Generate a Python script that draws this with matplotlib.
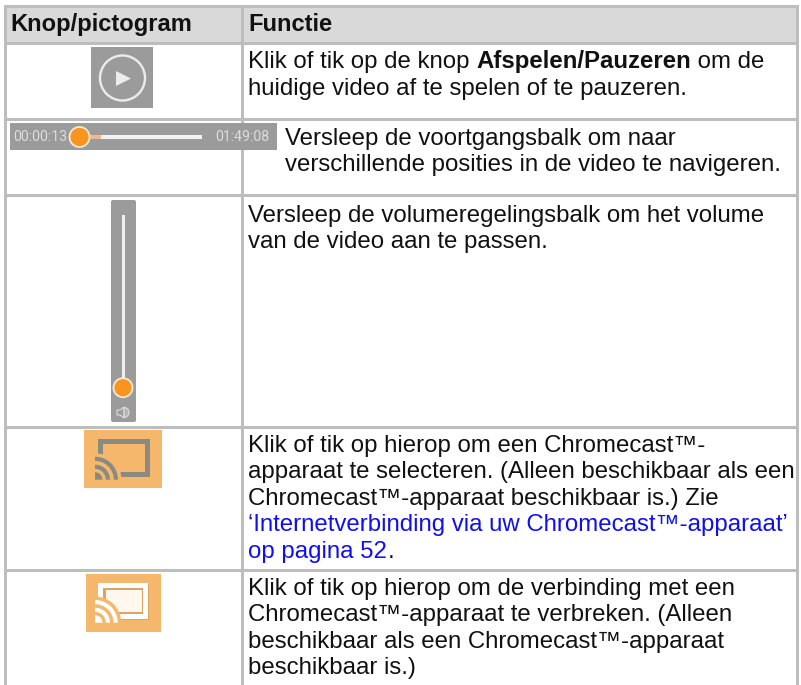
import numpy as np
import matplotlib
matplotlib.use("Agg")
import matplotlib.pyplot as plt
from matplotlib.patches import Rectangle, Circle, FancyBboxPatch, Polygon, Wedge

headers = ["Knop/pictogram", "Functie"]
black, blue = "#111111", "#1010ee"
row1_lines = [[("Klik of tik op de knop ", 0), ("Afspelen/Pauzeren", 1), (" om de", 0)],
              [("huidige video af te spelen of te pauzeren.", 0)]]
row2_lines = ["Versleep de voortgangsbalk om naar",
              "verschillende posities in de video te navigeren."]
row3_lines = ["Versleep de volumeregelingsbalk om het volume",
              "van de video aan te passen."]
row4_lines = ["Klik of tik op hierop om een Chromecast™-",
              "apparaat te selecteren. (Alleen beschikbaar als een",
              "Chromecast™-apparaat beschikbaar is.) Zie"]
row4_links = ["‘Internetverbinding via uw Chromecast™-apparaat’",
              "op pagina 52"]
row5_lines = ["Klik of tik op hierop om de verbinding met een",
              "Chromecast™-apparaat te verbreken. (Alleen",
              "beschikbaar als een Chromecast™-apparaat",
              "beschikbaar is.)"]
time_start, time_end = "00:00:13", "01:49:08"

W, H = 801, 685
fig = plt.figure(figsize=(W/100, H/100), dpi=100)
ax = fig.add_axes([0, 0, 1, 1])
ax.set_xlim(0, W); ax.set_ylim(H, 0); ax.axis("off")

FS = 17.3
FAM = "Liberation Sans"
GRID = "#bdbdbd"
GREY = "#9b9b9b"
ORANGE = "#f9941e"
TAN = "#f4b76b"
DY = 26.45

def rect(x0, y0, x1, y1, c, z=1, **k):
    ax.add_patch(Rectangle((x0, y0), x1-x0, y1-y0, fc=c, ec="none", zorder=z, **k))

def text(x, y, s, c=black, w="normal", fs=FS):
    return ax.text(x, y, s, color=c, fontsize=fs, fontweight=w, family=FAM, va="baseline", ha="left", zorder=5)

# header + grid
rect(5, 7, 797, 43, "#d9d9d9", 1)
for y in [6.5, 43.5, 119.5, 195.5, 427, 570.5]:
    rect(3.5, y-1.5, 798.5, y+1.5, GRID, 2)
for x in [5, 242.5, 797]:
    rect(x-1.5, 5, x+1.5, H, GRID, 2)

text(10, 31, headers[0], w="bold", fs=17.15)
text(248, 31, headers[1], w="bold", fs=17.15)

def lines(x, y0, ls, c=black, dy=DY):
    for i, s in enumerate(ls):
        text(x, y0 + i*dy, s, c)

r = fig.canvas.get_renderer()
def width(s, b=False):
    t2 = ax.text(0, 0, s.replace(" ", "\u00a0"), fontsize=FS, family=FAM, fontweight="bold" if b else "normal")
    v = t2.get_window_extent(r).width
    t2.remove()
    return v

x = 248.5
for s, b in row1_lines[0]:
    text(x, 68.3, s, w="bold" if b else "normal")
    x += width(s, b)
text(248.5, 94.5, row1_lines[1][0][0])
lines(285, 145, row2_lines)
lines(248.5, 221.7, row3_lines)
lines(248.5, 451.7, row4_lines)
lines(248.5, 531.5, row4_links, blue)
text(248.5 + width(row4_links[1]), 531.5 + DY, ".")
lines(248.5, 595, row5_lines)

# play icon
rect(91, 47, 153, 108, GREY, 3)
ax.add_patch(Circle((122.5, 78), 22.5, fc="none", ec="#ececec", lw=1.7, zorder=4))
ax.add_patch(Polygon([[116, 71], [116, 86], [131, 78.5]], fc="#ececec", ec="none", zorder=4))

# progress bar
rect(10, 123, 277, 150, GREY, 3)
ax.text(13, 137, time_start, color="#dcdcdc", fontsize=10.2, family="Roboto", va="center", zorder=4)
ax.text(215, 137, time_end, color="#dcdcdc", fontsize=10.2, family="Roboto", va="center", zorder=4)
rect(90, 135.3, 202, 138.7, "#f2f2f2", 4)
rect(90, 135.3, 101, 138.7, "#f2b98a", 4)
ax.add_patch(Circle((79.5, 137), 10, fc=ORANGE, ec="#f4ead8", lw=1.3, zorder=5))

# volume bar
ax.add_patch(FancyBboxPatch((111, 200), 25, 222, boxstyle="round,pad=0,rounding_size=2", fc=GREY, ec="none", zorder=3))
rect(121.7, 215, 125, 378, "#f0f0f0", 4)
ax.add_patch(Circle((123, 387.7), 9.5, fc=ORANGE, ec="#f4ead8", lw=1.3, zorder=5))
ax.add_patch(Polygon([[117, 410], [120, 410], [124, 407], [124, 418], [120, 415], [117, 415]], fc="#9b9b9b", ec="#dddddd", lw=0.8, zorder=4))
ax.add_patch(Wedge((124, 412.5), 5, -90, 90, fc="#b5b5b5", ec="#dddddd", lw=0.8, zorder=4))

# cast icons
def waves(ox, oy, rs, c):
    ax.add_patch(Wedge((ox, oy), rs[-1] + 3.5, -90, 0, fc=TAN, ec="none", zorder=4.2))
    ax.add_patch(Wedge((ox, oy), rs[0], -90, 0, fc=c, ec="none", zorder=4.3))
    for rad in rs[1:]:
        ax.add_patch(Wedge((ox, oy), rad, -90, 0, width=4.2, fc=c, ec="none", zorder=4.3))

# grey, unconnected icon
rect(84, 430, 162, 488, TAN, 3)
px, py = [100, 100, 146.5, 146.5, 118], [455, 440.5, 440.5, 474, 474]
ax.plot(px, py, color="#8a8a82", lw=3.6, zorder=4, solid_joinstyle="miter", solid_capstyle="butt")
waves(95, 479.7, (7.5, 15, 23), "#8a8a82")

# white, connected icon
rect(86, 574, 161, 632, TAN, 3)
rect(99, 584.5, 149.2, 620.2, "#dfa260", 3.5)
rect(97.5, 583, 147.7, 618.7, "#ffffff", 4)
rect(102.5, 588, 142.7, 613.7, "#dfa260", 4.05)
rect(105.7, 590, 141.7, 612, "#fff8ef", 4.1)
waves(95, 622.7, (7.5, 15, 22.7), "#ffffff")

fig.savefig("out.png", dpi=100)
